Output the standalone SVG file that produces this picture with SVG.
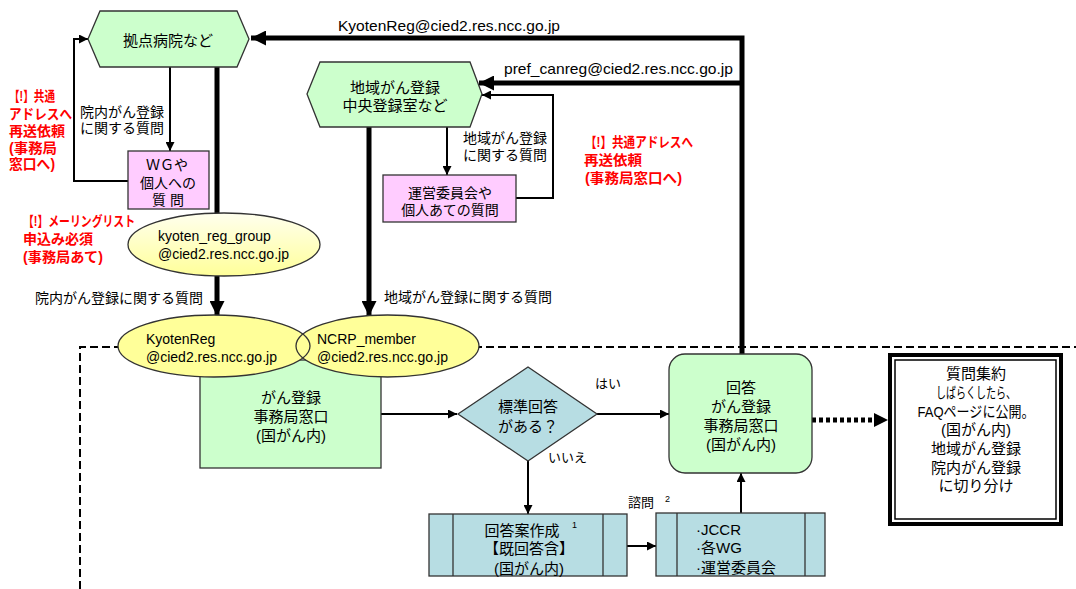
<svg xmlns="http://www.w3.org/2000/svg" width="1076" height="589" viewBox="0 0 1076 589">
<defs>
<style>
text{font-family:"Liberation Sans","Noto Sans CJK JP",sans-serif;fill:#000;dominant-baseline:central}
.t15{font-size:15px}
.t14{font-size:14px}
.t13{font-size:13px}
.sup{font-size:9px}
.red{font-size:14px;font-weight:bold;fill:#ff0000}
.mid{text-anchor:middle}
.ln{fill:none;stroke:#000;stroke-width:2}
.thick{fill:none;stroke:#000;stroke-width:5}
.node{stroke:#333;stroke-width:1.3}
.green{fill:#ccffcc}
.pink{fill:#ffccff}
.blue{fill:#b7dde3}
.yellow{fill:#ffff99}
</style>
<marker id="ah" viewBox="0 0 10 10" refX="10" refY="5" markerWidth="10" markerHeight="9" markerUnits="userSpaceOnUse" orient="auto"><path d="M0,0 L10,5 L0,10 z" fill="#000"/></marker>
<marker id="ahT" viewBox="0 0 10 10" refX="10" refY="5" markerWidth="15" markerHeight="15" markerUnits="userSpaceOnUse" orient="auto"><path d="M0,0 L10,5 L0,10 z" fill="#000"/></marker>
<linearGradient id="yg" x1="0" y1="0" x2="0" y2="1"><stop offset="0" stop-color="#ffffee"/><stop offset="1" stop-color="#ffff99"/></linearGradient>
</defs>
<rect width="1076" height="589" fill="#fff"/>

<g id="region">
<path d="M80,589 V347 H1076" fill="none" stroke="#000" stroke-width="2" stroke-dasharray="8,4"/>
</g>

<g id="connectors">
<path class="thick" d="M742,356 V38 H251" marker-end="url(#ahT)"/>
<path class="thick" d="M742,83 H479" marker-end="url(#ahT)"/>
<path class="thick" d="M217,67 V316" marker-end="url(#ahT)"/>
<path class="thick" d="M369,127 V316" marker-end="url(#ahT)"/>
<path class="ln" d="M170,67 V151" marker-end="url(#ah)"/>
<path class="ln" d="M128,181 H74 V39 H88" marker-end="url(#ah)"/>
<path class="ln" d="M447,127 V175" marker-end="url(#ah)"/>
<path class="ln" d="M516,198 H553 V95 H482" marker-end="url(#ah)"/>
<path class="ln" d="M381,414 H457" marker-end="url(#ah)"/>
<path class="ln" d="M597,414 H669" marker-end="url(#ah)"/>
<path class="ln" d="M528,461 V514" marker-end="url(#ah)"/>
<path class="ln" d="M627,546 H656" marker-end="url(#ah)"/>
<path class="ln" d="M741,513 V473" marker-end="url(#ah)"/>
<path d="M812,420 H876" fill="none" stroke="#000" stroke-width="5" stroke-dasharray="4,3"/>
<path d="M874,413 L888,420 L874,427 z" fill="#000"/>
<text class="t15" x="338" y="25" textLength="222" lengthAdjust="spacingAndGlyphs">KyotenReg@cied2.res.ncc.go.jp</text>
<text class="t15" x="504" y="68" textLength="229" lengthAdjust="spacingAndGlyphs">pref_canreg@cied2.res.ncc.go.jp</text>
<text class="t14" x="80" y="112">院内がん登録</text>
<text class="t14" x="80" y="128">に関する質問</text>
<text class="t14" x="463" y="138">地域がん登録</text>
<text class="t14" x="463" y="155">に関する質問</text>
<text class="t14" x="35" y="298">院内がん登録に関する質問</text>
<text class="t14" x="384" y="297">地域がん登録に関する質問</text>
<text class="t13" x="595" y="383">はい</text>
<text class="t13" x="548" y="457">いいえ</text>
<text class="t13" x="628" y="502">諮問</text>
<text class="sup" x="665" y="499">2</text>
</g>

<g id="notes">
<text class="red" x="9" y="96" textLength="46" lengthAdjust="spacingAndGlyphs">【!】共通</text>
<text class="red" x="9" y="114" textLength="63" lengthAdjust="spacingAndGlyphs">アドレスへ</text>
<text class="red" x="9" y="131" textLength="56" lengthAdjust="spacingAndGlyphs">再送依頼</text>
<text class="red" x="9" y="148" textLength="48" lengthAdjust="spacingAndGlyphs">(事務局</text>
<text class="red" x="9" y="164" textLength="46" lengthAdjust="spacingAndGlyphs">窓口へ)</text>
<text class="red" x="23" y="221" textLength="112" lengthAdjust="spacingAndGlyphs">【!】メーリングリスト</text>
<text class="red" x="23" y="239" textLength="70" lengthAdjust="spacingAndGlyphs">申込み必須</text>
<text class="red" x="23" y="257" textLength="80" lengthAdjust="spacingAndGlyphs">(事務局あて)</text>
<text class="red" x="585" y="142" textLength="108" lengthAdjust="spacingAndGlyphs">【!】共通アドレスへ</text>
<text class="red" x="584" y="160" textLength="58" lengthAdjust="spacingAndGlyphs">再送依頼</text>
<text class="red" x="585" y="178" textLength="97" lengthAdjust="spacingAndGlyphs">(事務局窓口へ)</text>
</g>

<g id="hex-kyoten">
<polygon class="node green" points="88,39 100,11 237,11 249,39 237,67 100,67"/>
<text class="t15 mid" x="168" y="40">拠点病院など</text>
</g>

<g id="hex-chiiki">
<polygon class="node green" points="307,94 320,62 470,62 482,94 470,127 320,127"/>
<text class="t15 mid" x="395" y="87">地域がん登録</text>
<text class="t15 mid" x="395" y="105">中央登録室など</text>
</g>

<g id="wg-box">
<rect class="node pink" x="128" y="151" width="81" height="58"/>
<text class="t14 mid" x="167" y="165">ＷＧや</text>
<text class="t14 mid" x="168" y="183">個人への</text>
<text class="t14 mid" x="168" y="200">質 問</text>
</g>

<g id="unei-box">
<rect class="node pink" x="383" y="175" width="133" height="47"/>
<text class="t14 mid" x="450" y="193">運営委員会や</text>
<text class="t14 mid" x="450" y="210">個人あての質問</text>
</g>

<g id="kyoten-group">
<ellipse cx="224" cy="244.5" rx="96" ry="31.5" fill="url(#yg)" stroke="#333" stroke-width="1.3"/>
<text class="t14" x="158" y="236">kyoten_reg_group</text>
<text class="t14" x="158" y="254">@cied2.res.ncc.go.jp</text>
</g>

<g id="madoguchi">
<rect class="node green" x="200" y="360" width="181" height="108"/>
<text class="t15 mid" x="291" y="397">がん登録</text>
<text class="t15 mid" x="291" y="416">事務局窓口</text>
<text class="t15 mid" x="291" y="435">(国がん内)</text>
</g>

<g id="mail-ellipses">
<ellipse class="yellow" cx="214" cy="346" rx="96" ry="31"/>
<ellipse class="yellow" cx="387.5" cy="346" rx="91.5" ry="31"/>
<ellipse cx="214" cy="346" rx="96" ry="31" fill="none" stroke="#333" stroke-width="1.3"/>
<ellipse cx="387.5" cy="346" rx="91.5" ry="31" fill="none" stroke="#333" stroke-width="1.3"/>
</g>
<g id="kyotenreg">
<text class="t14" x="146" y="339">KyotenReg</text>
<text class="t14" x="146" y="357">@cied2.res.ncc.go.jp</text>
</g>
<g id="ncrp">
<text class="t14" x="317" y="339">NCRP_member</text>
<text class="t14" x="317" y="357">@cied2.res.ncc.go.jp</text>
</g>

<g id="decision">
<polygon class="node blue" points="458,414 528,367 597,414 528,461"/>
<text class="t15 mid" x="528" y="406">標準回答</text>
<text class="t15 mid" x="528" y="426">がある？</text>
</g>

<g id="draft">
<rect class="node blue" x="429" y="514" width="198" height="62"/>
<line x1="453" y1="514" x2="453" y2="576" stroke="#333" stroke-width="1.3"/>
<line x1="603" y1="514" x2="603" y2="576" stroke="#333" stroke-width="1.3"/>
<text class="t15 mid" x="522" y="530">回答案作成</text>
<text class="sup" x="572" y="525">1</text>
<text class="t15 mid" x="529" y="548">【既回答含】</text>
<text class="t15 mid" x="529" y="568">(国がん内)</text>
</g>

<g id="jccr">
<rect class="node blue" x="656" y="513" width="169" height="63"/>
<line x1="677" y1="513" x2="677" y2="576" stroke="#333" stroke-width="1.3"/>
<line x1="805" y1="513" x2="805" y2="576" stroke="#333" stroke-width="1.3"/>
<text class="t15" x="696" y="529">·JCCR</text>
<text class="t15" x="696" y="547">·各WG</text>
<text class="t15" x="696" y="567">·運営委員会</text>
</g>

<g id="answer">
<rect class="node green" x="669" y="354" width="143" height="119" rx="16" ry="16"/>
<text class="t15 mid" x="741" y="387">回答</text>
<text class="t15 mid" x="741" y="406">がん登録</text>
<text class="t15 mid" x="741" y="425">事務局窓口</text>
<text class="t15 mid" x="741" y="444">(国がん内)</text>
</g>

<g id="faq">
<rect x="890" y="355" width="171" height="169" fill="#fff" stroke="#000" stroke-width="4"/>
<rect x="895" y="360" width="161" height="159" fill="none" stroke="#000" stroke-width="1.5"/>
<text class="t15 mid" x="976" y="373">質問集約</text>
<text class="t15 mid" x="976" y="392" textLength="80" lengthAdjust="spacingAndGlyphs">しばらくしたら、</text>
<text class="t15 mid" x="976" y="411" textLength="117" lengthAdjust="spacingAndGlyphs">FAQページに公開。</text>
<text class="t15 mid" x="976" y="429">(国がん内)</text>
<text class="t15 mid" x="976" y="448">地域がん登録</text>
<text class="t15 mid" x="976" y="467">院内がん登録</text>
<text class="t15 mid" x="976" y="485">に切り分け</text>
</g>
</svg>
